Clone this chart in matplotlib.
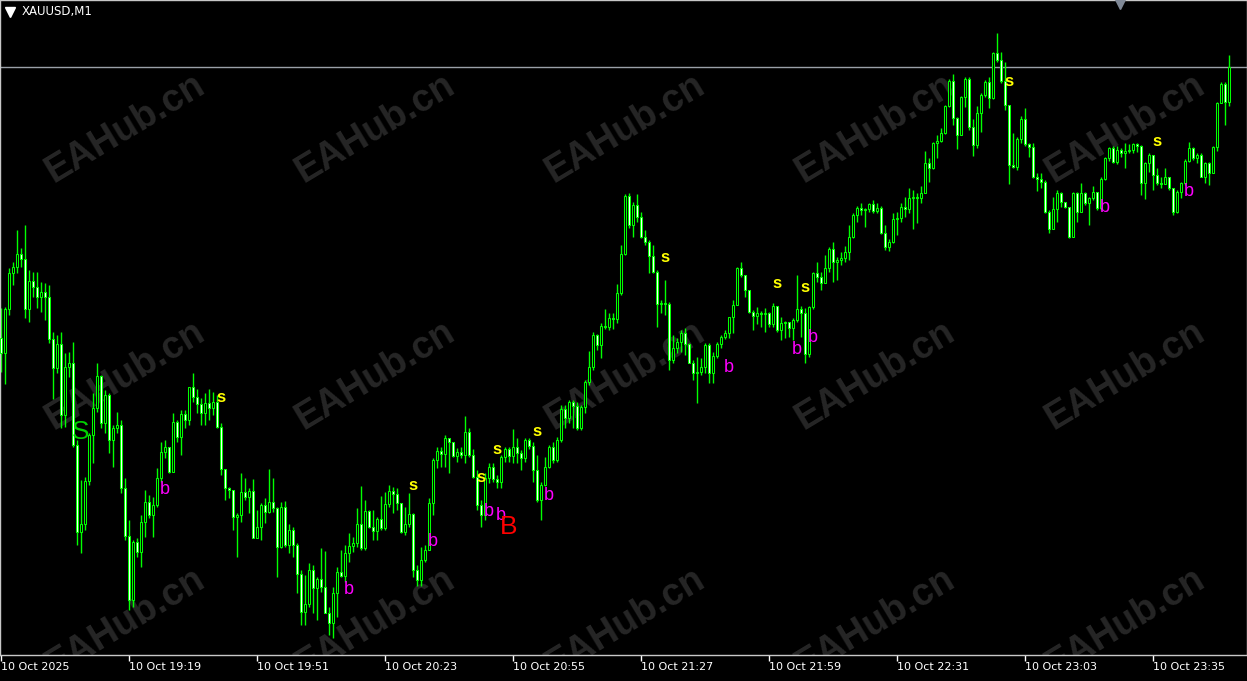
import matplotlib
matplotlib.use("Agg")
import matplotlib.pyplot as plt
import numpy as np

# XAUUSD M1, 10 Oct 2025 18:47 .. 23:54 (one candle per minute)
first_open = 3986.2

closes = [
    3984.7, 3989.1, 3992.7, 3993.3, 3994.6, 3994.1, 3989.1, 3991.9, 3991.3, 3990.3,
    3990.8, 3990.3, 3986.1, 3983.2, 3985.6, 3978.5, 3983.3, 3983.7, 3975.5, 3966.8,
    3967.6, 3971.9, 3976.5, 3979.2, 3982.4, 3977.7, 3980.5, 3976.0, 3977.2, 3977.5,
    3971.2, 3966.4, 3960.0, 3965.8, 3964.8, 3967.8, 3969.8, 3968.5, 3969.5, 3972.2,
    3974.8, 3975.3, 3972.8, 3977.8, 3976.3, 3978.6, 3978.0, 3981.3, 3980.3, 3979.6,
    3978.7, 3979.7, 3979.2, 3979.8, 3977.3, 3973.1, 3971.2, 3971.0, 3968.3, 3968.5,
    3970.8, 3970.3, 3970.9, 3966.2, 3967.3, 3969.5, 3968.8, 3969.8, 3969.2, 3965.3,
    3969.3, 3965.5, 3967.0, 3965.5, 3962.6, 3958.8, 3959.6, 3963.0, 3961.2, 3962.1,
    3961.3, 3958.7, 3957.7, 3960.7, 3962.8, 3962.4, 3964.7, 3965.4, 3965.7, 3967.6,
    3965.2, 3968.9, 3967.3, 3966.9, 3968.1, 3967.2, 3969.6, 3970.9, 3970.6, 3969.7,
    3966.8, 3967.6, 3968.6, 3963.0, 3962.0, 3964.0, 3965.0, 3969.7, 3974.0, 3974.9,
    3974.6, 3976.2, 3975.8, 3974.4, 3974.8, 3974.5, 3976.8, 3974.5, 3972.3, 3969.5,
    3968.5, 3972.2, 3973.3, 3972.1, 3971.8, 3974.3, 3975.1, 3974.4, 3975.3, 3974.7,
    3974.2, 3976.0, 3975.4, 3973.0, 3970.0, 3971.5, 3973.3, 3975.3, 3974.0, 3976.0,
    3979.1, 3978.2, 3979.8, 3979.4, 3977.2, 3979.3, 3981.8, 3983.3, 3986.5, 3985.5,
    3987.4, 3987.3, 3988.2, 3988.1, 3990.7, 3994.6, 4000.4, 3997.5, 3999.5, 3998.3,
    3996.3, 3995.8, 3994.4, 3992.8, 3989.6, 3989.7, 3989.6, 3984.0, 3985.2, 3985.8,
    3986.7, 3985.6, 3983.7, 3982.7, 3982.8, 3983.3, 3985.5, 3982.7, 3984.4, 3985.6,
    3986.3, 3986.7, 3988.3, 3989.5, 3993.2, 3992.5, 3991.0, 3988.8, 3988.4, 3988.7,
    3988.6, 3988.7, 3987.6, 3989.4, 3987.0, 3987.7, 3987.8, 3987.2, 3988.0, 3989.1,
    3988.7, 3984.6, 3989.3, 3992.7, 3992.3, 3991.7, 3993.2, 3995.1, 3993.8, 3994.0,
    3994.2, 3994.8, 3996.3, 3998.5, 3999.2, 3999.0, 3999.1, 3999.6, 3998.9, 3999.2,
    3996.7, 3995.3, 3995.8, 3998.1, 3998.2, 3999.3, 3999.1, 4000.2, 4000.3, 4000.2,
    4000.7, 4003.7, 4003.2, 4005.7, 4005.9, 4006.7, 4009.4, 4011.9, 4008.2, 4006.5,
    4010.3, 4012.1, 4007.3, 4005.5, 4008.7, 4010.5, 4011.8, 4010.2, 4014.7, 4014.0,
    4011.9, 4009.5, 4003.5, 4003.3, 4006.1, 4008.1, 4005.6, 4005.3, 4002.3, 4002.1,
    4001.8, 3998.8, 3997.1, 3999.1, 4000.7, 3999.8, 3999.3, 3996.3, 4000.7, 3998.8,
    4000.7, 3999.7, 4000.2, 4000.8, 3999.2, 4002.1, 4004.2, 4005.2, 4003.8, 4005.0,
    4004.7, 4004.9, 4005.0, 4005.6, 4005.4, 4001.7, 4003.7, 4004.5, 4002.5, 4001.7,
    4001.6, 4002.3, 4001.2, 3998.8, 4000.8, 4001.7, 4003.9, 4005.2, 4004.2, 4004.5,
    4002.3, 4003.7, 4002.7, 4005.3, 4009.7, 4011.6, 4009.8, 4013.3,
]

highs = [
    3989.2, 3989.3, 3993.2, 3993.8, 3997.0, 3995.2, 3997.5, 3993.0, 3992.8, 3992.8,
    3991.8, 3991.7, 3991.5, 3986.8, 3986.5, 3986.8, 3984.7, 3984.8, 3985.8, 3976.0,
    3972.0, 3972.3, 3976.7, 3980.7, 3983.7, 3982.5, 3981.0, 3980.7, 3977.5, 3978.8,
    3978.0, 3972.2, 3968.0, 3966.0, 3966.2, 3968.5, 3971.0, 3970.5, 3970.3, 3973.2,
    3975.8, 3976.0, 3975.3, 3978.7, 3978.0, 3979.0, 3979.0, 3981.3, 3982.7, 3981.1,
    3980.2, 3980.7, 3981.1, 3980.8, 3980.5, 3977.7, 3973.0, 3971.3, 3971.0, 3968.7,
    3972.7, 3972.2, 3971.2, 3972.1, 3969.0, 3969.7, 3970.2, 3973.1, 3972.2, 3969.3,
    3969.8, 3969.9, 3967.6, 3967.3, 3965.7, 3963.0, 3962.5, 3963.7, 3963.5, 3962.3,
    3965.2, 3964.9, 3959.3, 3961.3, 3963.3, 3965.0, 3965.5, 3966.7, 3966.3, 3969.2,
    3971.4, 3970.0, 3969.0, 3969.0, 3968.3, 3970.4, 3970.8, 3971.5, 3971.3, 3971.2,
    3969.7, 3969.3, 3970.7, 3968.7, 3963.5, 3965.3, 3965.5, 3970.2, 3974.2, 3975.3,
    3975.3, 3976.5, 3976.2, 3975.8, 3975.2, 3975.3, 3978.4, 3977.2, 3975.1, 3973.0,
    3970.0, 3972.7, 3973.7, 3973.7, 3972.5, 3974.5, 3975.3, 3975.3, 3977.1, 3976.2,
    3975.0, 3976.2, 3976.2, 3975.8, 3974.5, 3971.8, 3974.3, 3975.5, 3975.8, 3976.3,
    3979.5, 3979.5, 3980.0, 3980.0, 3979.8, 3979.5, 3982.0, 3984.9, 3986.8, 3986.6,
    3987.7, 3989.1, 3988.7, 3988.7, 3991.6, 3995.5, 4000.6, 4000.7, 3999.8, 4000.6,
    3998.8, 3997.0, 3996.0, 3995.5, 3993.0, 3990.0, 3992.0, 3989.8, 3986.5, 3986.2,
    3987.0, 3987.2, 3985.7, 3984.0, 3984.3, 3984.2, 3985.7, 3985.7, 3984.8, 3985.8,
    3986.5, 3987.0, 3988.3, 3990.0, 3993.3, 3993.8, 3992.5, 3991.0, 3989.0, 3989.3,
    3988.9, 3989.2, 3988.8, 3989.7, 3989.4, 3988.3, 3987.9, 3987.8, 3988.2, 3992.5,
    3989.4, 3989.2, 3989.4, 3992.8, 3993.8, 3992.8, 3994.5, 3995.3, 3995.8, 3994.3,
    3994.8, 3995.4, 3997.5, 3998.7, 3999.4, 3999.7, 3999.2, 3999.7, 4000.0, 3999.7,
    3999.4, 3997.5, 3996.1, 3998.7, 3998.8, 3999.7, 4000.3, 4001.2, 4001.0, 4000.7,
    4001.4, 4004.9, 4004.2, 4005.8, 4006.5, 4007.2, 4009.5, 4012.1, 4012.6, 4008.3,
    4010.4, 4012.3, 4012.3, 4008.1, 4009.4, 4010.7, 4012.0, 4012.3, 4014.8, 4016.7,
    4014.8, 4013.8, 4009.5, 4006.7, 4006.3, 4008.4, 4009.2, 4005.7, 4005.7, 4002.7,
    4002.7, 4002.0, 3999.0, 4000.3, 4001.0, 4000.8, 3999.8, 3999.2, 4000.8, 4000.8,
    4001.7, 4000.8, 4000.3, 4001.4, 4000.7, 4002.3, 4004.3, 4005.3, 4005.4, 4005.4,
    4005.2, 4005.7, 4005.6, 4005.7, 4005.7, 4005.5, 4003.8, 4004.7, 4004.2, 4003.2,
    4002.3, 4003.2, 4002.2, 4001.0, 4001.0, 4001.8, 4004.1, 4005.8, 4005.3, 4004.7,
    4004.7, 4003.8, 4003.8, 4005.4, 4009.8, 4011.8, 4011.8, 4014.5,
]

lows = [
    3982.8, 3981.6, 3988.5, 3991.5, 3992.7, 3993.3, 3988.2, 3987.8, 3990.3, 3989.2,
    3988.8, 3988.0, 3985.7, 3980.1, 3982.7, 3977.2, 3977.3, 3982.3, 3975.3, 3965.5,
    3964.7, 3967.0, 3971.5, 3973.7, 3978.8, 3977.2, 3976.7, 3974.7, 3973.3, 3976.7,
    3970.7, 3966.0, 3959.0, 3959.3, 3964.3, 3963.3, 3966.3, 3968.2, 3966.3, 3969.3,
    3971.8, 3974.2, 3972.7, 3972.8, 3975.8, 3974.5, 3977.2, 3977.5, 3979.8, 3978.7,
    3977.5, 3977.5, 3978.0, 3978.5, 3977.2, 3972.5, 3970.0, 3970.2, 3967.0, 3964.3,
    3967.8, 3970.0, 3968.7, 3966.2, 3966.3, 3966.0, 3967.7, 3968.7, 3968.8, 3962.3,
    3965.2, 3965.3, 3964.7, 3964.3, 3960.7, 3957.5, 3957.5, 3959.3, 3958.7, 3958.0,
    3960.8, 3958.7, 3956.5, 3956.2, 3958.3, 3962.3, 3961.8, 3963.8, 3964.8, 3965.3,
    3965.0, 3965.0, 3967.2, 3966.0, 3966.0, 3967.0, 3967.0, 3969.3, 3968.7, 3969.0,
    3966.7, 3966.5, 3967.3, 3962.3, 3961.4, 3961.4, 3963.8, 3965.0, 3968.5, 3973.2,
    3973.3, 3973.3, 3972.7, 3974.3, 3973.8, 3974.2, 3973.7, 3974.3, 3972.2, 3969.0,
    3967.3, 3968.0, 3971.7, 3971.8, 3971.2, 3971.2, 3973.8, 3973.8, 3973.7, 3973.7,
    3973.0, 3973.8, 3975.1, 3971.8, 3969.8, 3968.0, 3971.4, 3973.2, 3973.7, 3973.8,
    3975.8, 3977.2, 3977.7, 3977.2, 3977.0, 3977.0, 3978.7, 3981.5, 3983.0, 3985.0,
    3984.2, 3987.1, 3987.0, 3987.1, 3987.7, 3990.5, 3994.5, 3997.2, 3996.3, 3997.8,
    3996.2, 3995.5, 3992.7, 3992.7, 3987.3, 3988.7, 3988.5, 3983.0, 3983.7, 3984.7,
    3984.8, 3984.5, 3983.7, 3982.0, 3979.7, 3982.5, 3982.7, 3981.7, 3981.7, 3984.2,
    3985.2, 3986.1, 3986.2, 3986.7, 3989.6, 3992.3, 3990.3, 3988.7, 3987.0, 3987.6,
    3987.3, 3986.8, 3987.3, 3987.3, 3986.8, 3986.0, 3986.2, 3986.3, 3986.0, 3987.8,
    3986.3, 3983.7, 3984.3, 3989.1, 3991.8, 3991.0, 3991.7, 3992.8, 3991.8, 3992.0,
    3993.5, 3993.8, 3994.0, 3996.2, 3997.8, 3998.5, 3997.3, 3998.8, 3998.7, 3998.7,
    3996.6, 3995.0, 3994.9, 3995.7, 3996.5, 3997.8, 3998.3, 3998.7, 3997.1, 3997.7,
    3999.7, 4000.8, 4001.8, 4003.1, 4004.2, 4005.8, 4006.6, 4009.3, 4007.5, 4005.1,
    4006.6, 4009.3, 4007.0, 4004.4, 4005.2, 4006.8, 4010.3, 4009.2, 4010.1, 4013.8,
    4011.7, 4009.0, 4001.6, 4003.2, 4003.0, 4005.7, 4005.4, 4004.3, 4002.2, 4000.9,
    4001.2, 3998.7, 3996.7, 3997.2, 3997.8, 3999.3, 3999.2, 3996.2, 3996.3, 3997.8,
    3999.7, 3999.5, 3997.5, 4000.0, 3999.0, 3999.0, 4002.0, 4003.9, 4003.7, 4003.6,
    4004.3, 4003.2, 4004.7, 4004.7, 4004.8, 4000.5, 4000.1, 4002.8, 4001.0, 4001.5,
    4001.2, 4001.7, 4001.0, 3998.5, 3998.7, 4000.2, 4001.5, 4003.8, 4004.0, 4003.7,
    4002.3, 4001.7, 4001.5, 4002.7, 4004.9, 4009.7, 4007.5, 4009.4,
]

tick_bars = [0, 32, 64, 96, 128, 160, 192, 224, 256, 288]
tick_labels = ['10 Oct 2025', '10 Oct 19:19', '10 Oct 19:51', '10 Oct 20:23',
               '10 Oct 20:55', '10 Oct 21:27', '10 Oct 21:59', '10 Oct 22:31',
               '10 Oct 23:03', '10 Oct 23:35']

# indicator arrows drawn as letters
sig_bars = [20, 41, 55, 87, 103, 108, 120, 122, 124, 125, 127, 134, 137,
            166, 182, 194, 199, 201, 203, 252, 276, 289, 297]
sig_prices = [3976.8, 3971.0, 3980.2, 3961.0, 3971.5, 3965.8, 3972.3, 3968.8,
              3975.1, 3968.5, 3967.3, 3976.8, 3970.5, 3994.3, 3983.3, 3991.7,
              3985.1, 3991.3, 3986.3, 4011.9, 3999.3, 4005.9, 4000.9]
sig_texts = ['S', 'b', 's', 'b', 's', 'b', 's', 'b', 's', 'b', 'B', 's', 'b',
             's', 'b', 's', 'b', 's', 'b', 's', 'b', 's', 'b']

W, H = 1247, 681
AX_H = 655

fig = plt.figure(figsize=(W / 100, H / 100), dpi=100, facecolor='black')
ax = fig.add_axes([0, (H - AX_H) / H, 1, AX_H / H])
ax.set_facecolor('black')

# watermark grid
for wx in [125, 375, 625, 875, 1125]:
    for wy in [128, 375, 622]:
        ax.text(wx / W, 1 - wy / AX_H, 'EAHub.cn', transform=ax.transAxes,
                rotation=31, ha='center', va='center', fontsize=27,
                fontweight='bold', family='Liberation Sans', color='#262626',
                zorder=0, clip_on=True)

c = np.array(closes)
o = np.array([first_open] + closes[:-1])
hi = np.maximum(np.array(highs), np.maximum(o, c))
lo = np.minimum(np.array(lows), np.minimum(o, c))
x = np.arange(len(c))

ax.vlines(x, lo, hi, color='#00ff00', linewidth=1, zorder=2)
bottom = np.minimum(o, c)
height = np.maximum(np.abs(c - o), 0.02)
fills = ['black' if cc >= oo else 'white' for oo, cc in zip(o, c)]
ax.bar(x, height, bottom=bottom, width=0.5, color=fills,
       edgecolor='#00ff00', linewidth=0.75, zorder=3)

# bid line
ax.axhline(c[-1], color='#9aa0a8', linewidth=1, zorder=1)

sig_style = {
    's': dict(color='#ffff00', fontsize=12, fontweight='bold'),
    'b': dict(color='#ff00ff', fontsize=13),
    'S': dict(color='#00d000', fontsize=19),
    'B': dict(color='#ff0000', fontsize=19),
}
for b, p, t in zip(sig_bars, sig_prices, sig_texts):
    ax.text(b, p, t, ha='center', va='center', family='Liberation Sans',
            zorder=4, **sig_style[t])

ax.set_xlim(-0.25, W / 4 - 0.25)
ax.set_ylim(4020 - AX_H / 10, 4020)

ax.set_xticks(tick_bars)
ax.set_xticklabels(tick_labels, ha='left', color='white', fontsize=8)
ax.tick_params(axis='x', colors='white', length=4, width=1, direction='out', pad=1)
ax.set_yticks([])
for s in ax.spines.values():
    s.set_color('#c8c8c8')
    s.set_linewidth(1)

# symbol caption and chart-shift marker
ax.plot([10 / W], [1 - 12 / AX_H], marker='v', color='white', markersize=7,
        transform=ax.transAxes, clip_on=False, zorder=5)
ax.text(22 / W, 1 - 12 / AX_H, 'XAUUSD,M1', transform=ax.transAxes,
        ha='left', va='center', color='white', fontsize=8.5, zorder=5)
ax.plot([1120 / W], [1 - 1 / AX_H], marker='v', color='#7f8896', markersize=11,
        transform=ax.transAxes, clip_on=True, zorder=5)

fig.savefig('out.png', dpi=100, facecolor='black')
